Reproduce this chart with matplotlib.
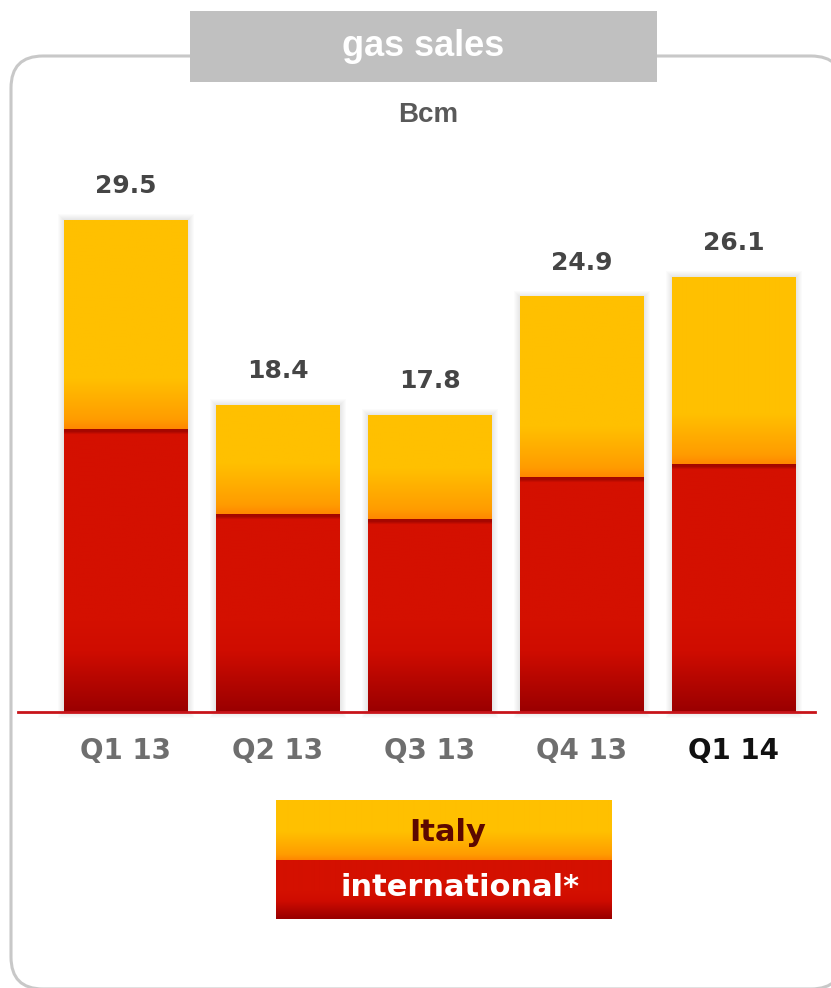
import matplotlib.pyplot as plt
import numpy as np
from matplotlib.patches import FancyBboxPatch, Rectangle
from matplotlib.colors import to_rgb

quarters = ["Q1 13", "Q2 13", "Q3 13", "Q4 13", "Q1 14"]
international = [17.0, 11.9, 11.6, 14.1, 14.9]
italy = [12.5, 6.5, 6.2, 10.8, 11.2]
totals = [29.5, 18.4, 17.8, 24.9, 26.1]

W, H = 831, 988
PX_X = 152.0     # pixels per category step
PX_Y = 16.67     # pixels per Bcm


def ramp(dist, stops):
    # colour for each pixel row from (distance, colour) stops
    d = [s[0] for s in stops]
    cols = np.array([to_rgb(s[1]) for s in stops])
    return np.stack([np.interp(dist, d, cols[:, i]) for i in range(3)], axis=-1)


def italy_img(n, fade=50):
    from_bottom = np.arange(n)[::-1]
    return ramp(from_bottom, [(0, "#ff8800"), (fade * 0.18, "#ff9c00"),
                              (fade, "#ffc000"), (9999, "#ffc000")])


def intl_img(n, fade=60, top_band=True):
    rows = np.arange(n)
    from_bottom = rows[::-1]
    img = ramp(from_bottom, [(0, "#9a0000"), (fade, "#cf0c00"),
                             (fade * 1.5, "#d41000"), (9999, "#d41000")])
    if top_band:
        band = ramp(rows, [(0, "#a00600"), (3, "#a80800"), (6, "#d41000"), (9999, "#d41000")])
        img = np.where((rows < 7)[:, None], band, img)
    return img


def paint(ax, x0, x1, y0, y1, img, z):
    ax.imshow(img[:, None, :], extent=(x0, x1, y0, y1), origin="upper",
              aspect="auto", interpolation="bilinear", zorder=z)


fig = plt.figure(figsize=(W / 100, H / 100), dpi=100)

# background layer in pixel units: frame, heading, legend
bg = fig.add_axes([0, 0, 1, 1])
bg.axis("off")
bg.add_patch(FancyBboxPatch((11, 56), 832, 933, boxstyle="round,pad=0,rounding_size=32",
                            fc="white", ec="#c8c8c8", lw=2.2, zorder=1))
bg.add_patch(Rectangle((190, 11), 467, 71, fc="#c0c0c0", ec="none", zorder=3))
bg.text(423, 47, "gas sales", color="white", fontsize=26, fontweight="bold",
        family="Liberation Sans", ha="center", va="center", zorder=4)
bg.text(428, 115, "Bcm", color="#595959", fontsize=20, fontweight="bold",
        family="Liberation Sans", ha="center", va="center", zorder=4)

# legend swatches
paint(bg, 276, 612, 860, 800, italy_img(60, fade=28), 3)
paint(bg, 276, 612, 919, 860, intl_img(59, fade=18, top_band=False), 3)
bg.text(448, 832, "Italy", color="#5c0800", fontsize=22, fontweight="bold",
        ha="center", va="center", zorder=4)
bg.text(460, 887, "international*", color="white", fontsize=22, fontweight="bold",
        ha="center", va="center", zorder=4)
bg.set_xlim(0, W)
bg.set_ylim(H, 0)

# chart layer
base_px, top_px = 712, 100
ax = fig.add_axes([0, (H - base_px) / H, 1, (base_px - top_px) / H])
ax.patch.set_alpha(0)
x = np.arange(len(quarters))
bw = 124 / PX_X

low = ax.bar(x, international, width=bw, color="none", zorder=3)
high = ax.bar(x, italy, bottom=international, width=bw, color="none", zorder=3)

for i, (b1, b2) in enumerate(zip(low, high)):
    x0, x1 = b1.get_x(), b1.get_x() + b1.get_width()
    # soft drop shadow around the whole stack
    for k in range(1, 7):
        dx, dy = k / PX_X, k / PX_Y
        ax.add_patch(Rectangle((x0 - dx, -dy), (x1 - x0) + 2 * dx, totals[i] + 2 * dy,
                               fc="#505050", ec="none", alpha=0.018, zorder=1,
                               clip_on=False))
    paint(ax, x0, x1, 0, international[i], intl_img(int(round(international[i] * PX_Y))), 2)
    paint(ax, x0, x1, international[i], totals[i], italy_img(int(round(italy[i] * PX_Y))), 2)
    ax.annotate(f"{totals[i]:.1f}", (x[i], totals[i]), xytext=(0, 34),
                textcoords="offset pixels", ha="center", va="center",
                fontsize=18, fontweight="bold", color="#454545")

ax.axhline(0, xmin=18 / W, xmax=815 / W, color="#c8141a", lw=2.0, zorder=5, clip_on=False)

ax.set_xticks(x, quarters)
ax.tick_params(axis="x", length=0, pad=18, labelsize=20, labelcolor="#6e6e6e")
for lab in ax.get_xticklabels():
    lab.set_fontweight("bold")
ax.get_xticklabels()[-1].set_color("#111111")
ax.set_yticks([])
for s in ax.spines.values():
    s.set_visible(False)

ax.set_xlim(-126 / PX_X, (W - 126) / PX_X)
ax.set_ylim(0, (base_px - top_px) / PX_Y)

fig.savefig("out.png", dpi=100)
